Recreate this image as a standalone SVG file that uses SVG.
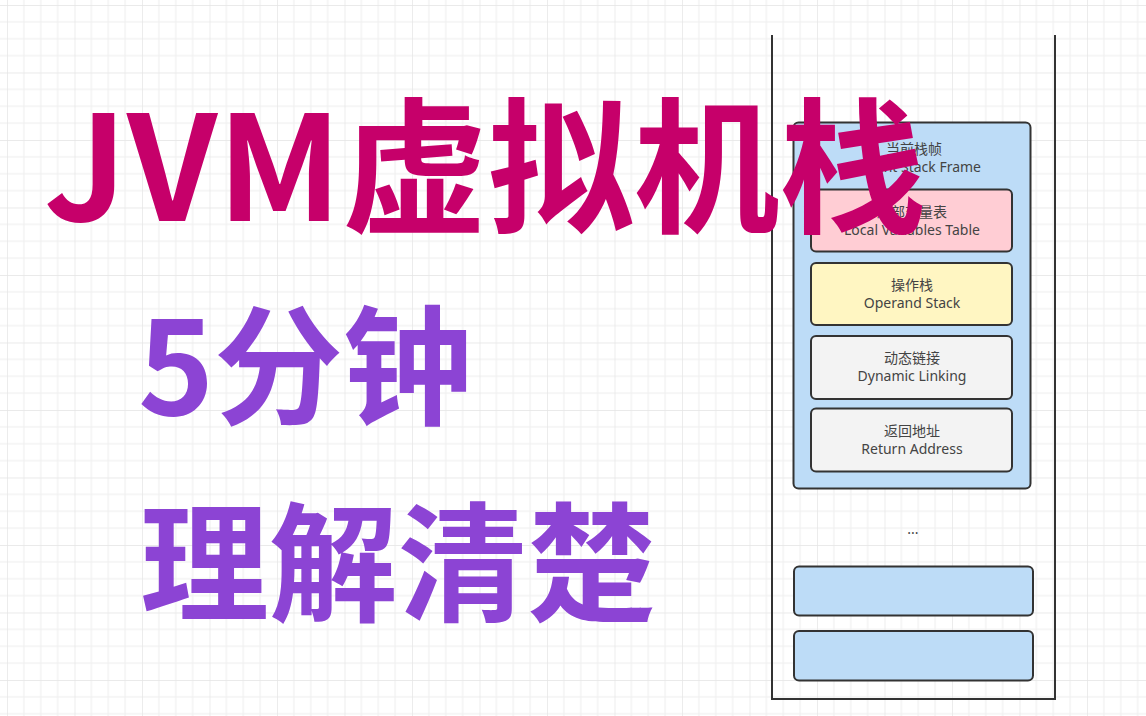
<svg xmlns="http://www.w3.org/2000/svg" width="1146" height="716" viewBox="0 0 1146 716">
<defs>
<pattern id="grid" x="7" y="5" width="67.5" height="67.5" patternUnits="userSpaceOnUse">
<path d="M16.875 0V67.5M33.75 0V67.5M50.625 0V67.5M0 16.875H67.5M0 33.75H67.5M0 50.625H67.5" stroke="#eeeeee" stroke-width="1" fill="none"/>
<path d="M0 0V67.5M0 0H67.5" stroke="#e4e4e4" stroke-width="1.4" fill="none"/>
</pattern>
<style>
.box{stroke:#333;stroke-width:2}
.frame{fill:#bddcf7}
.lv{fill:#ffcdd4}
.op{fill:#fff6c2}
.gr{fill:#f3f3f3}
.lbl{font-family:"Noto Sans","Noto Sans CJK SC",sans-serif;font-size:14px;fill:#444;text-anchor:middle}
.t1{font-family:"Noto Sans CJK SC",sans-serif;font-weight:700;font-size:146px;fill:#c6006a}
.t2{font-family:"Noto Sans CJK SC",sans-serif;font-weight:700;font-size:129px;fill:#8c44d4}
</style>
</defs>
<rect width="1146" height="716" fill="#ffffff"/>
<rect width="1146" height="716" fill="url(#grid)"/>
<g id="stack">
<path d="M772 35V699H1055V35" fill="none" stroke="#333" stroke-width="2"/>
</g>
<g id="current-frame">
<rect class="box frame" x="793.5" y="122.5" width="237" height="366" rx="5"/>
<text class="lbl" x="914" y="154">当前栈帧</text>
<text class="lbl" x="914" y="172">Current Stack Frame</text>
</g>
<g id="local-variables">
<rect class="box lv" x="811" y="189.5" width="201" height="62" rx="5"/>
<text class="lbl" x="912" y="217">局部变量表</text>
<text class="lbl" x="912" y="235">Local Variables Table</text>
</g>
<g id="operand-stack">
<rect class="box op" x="811" y="263" width="201" height="62" rx="5"/>
<text class="lbl" x="912" y="290">操作栈</text>
<text class="lbl" x="912" y="308">Operand Stack</text>
</g>
<g id="dynamic-linking">
<rect class="box gr" x="811" y="336" width="201" height="63" rx="5"/>
<text class="lbl" x="912" y="363">动态链接</text>
<text class="lbl" x="912" y="381">Dynamic Linking</text>
</g>
<g id="return-address">
<rect class="box gr" x="811" y="408.5" width="201" height="63" rx="5"/>
<text class="lbl" x="912" y="436">返回地址</text>
<text class="lbl" x="912" y="454">Return Address</text>
</g>
<g id="ellipsis">
<text class="lbl" x="913" y="534">...</text>
</g>
<g id="frame-2">
<rect class="box frame" x="794" y="566.5" width="239" height="49" rx="5"/>
</g>
<g id="frame-3">
<rect class="box frame" x="794" y="631" width="239" height="49.5" rx="5"/>
</g>
<g id="title">
<text class="t1" x="44" y="221">JVM虚拟机栈</text>
</g>
<g id="subtitle-1">
<text class="t2" x="138" y="415">5分钟</text>
</g>
<g id="subtitle-2">
<text class="t2" x="140" y="612">理解清楚</text>
</g>
</svg>
